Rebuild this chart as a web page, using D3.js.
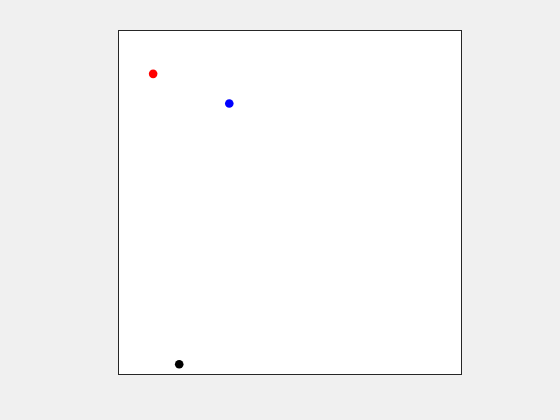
<!DOCTYPE html>
<html><head><meta charset="utf-8">
<script src="https://cdn.jsdelivr.net/npm/d3@7"></script>
<style>html,body{margin:0;padding:0;background:#f0f0f0;}svg{display:block;}</style>
</head><body>
<script>
const pointNames = ["red", "blue", "black"];
const xValues = [0.101, 0.323, 0.177];
const yValues = [0.874, 0.788, 0.030];
const colors = ["#ff0000", "#0000ff", "#000000"];

(function () {
const W = 560, H = 420;
const mLeft = 118.5, mTop = 30.5, mRight = 461.5, mBottom = 374.5;
const svg = d3.select("body").append("svg").attr("width", W).attr("height", H);
svg.append("rect").attr("width", W).attr("height", H).attr("fill", "#f0f0f0");
const x = d3.scaleLinear().domain([0, 1]).range([mLeft, mRight]);
const y = d3.scaleLinear().domain([0, 1]).range([mBottom, mTop]);
svg.append("rect").attr("x", mLeft).attr("y", mTop).attr("width", mRight - mLeft).attr("height", mBottom - mTop)
  .attr("fill", "#ffffff").attr("stroke", "#262626").attr("stroke-width", 1);
const pts = pointNames.map((n, i) => ({n, x: xValues[i], y: yValues[i], c: colors[i]}));
svg.selectAll("circle.pt").data(pts).enter().append("circle").attr("class", "pt")
  .attr("cx", d => x(d.x)).attr("cy", d => y(d.y)).attr("r", 4.3).attr("fill", d => d.c);
})();
</script>
</body></html>
